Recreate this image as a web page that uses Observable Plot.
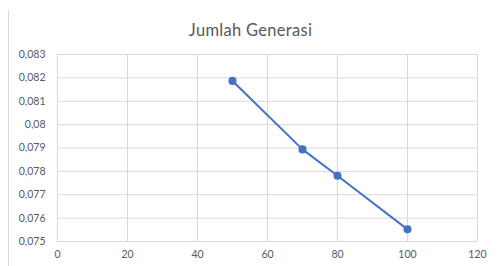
<!DOCTYPE html>
<html>
<head>
<meta charset="utf-8">
<script src="https://cdn.jsdelivr.net/npm/d3@7"></script>
<script src="https://cdn.jsdelivr.net/npm/@observablehq/plot@0.6"></script>
<style>
  html, body { margin: 0; padding: 0; background: #fff; }
  #wrap { position: relative; width: 501px; height: 266px; overflow: hidden; }
  #edge { position: absolute; left: 8px; top: 10px; width: 1px; height: 256px; background: #d9d9d9; }
  #title { position: absolute; left: 0; width: 501px; top: 20px; text-align: center;
           font-family: Lato, "Open Sans", sans-serif; font-size: 16.5px; letter-spacing: 0.3px; color: #595959; }
  svg { position: absolute; left: 0; top: 0; }
</style>
</head>
<body>
<div id="wrap">
  <div id="edge"></div>
  <div id="title">Jumlah Generasi</div>
</div>
<script>
const title = "Jumlah Generasi";
const generasi = [50, 70, 80, 100];
const nilai = [0.08187, 0.07894, 0.07781, 0.07552];
const xTicks = [0, 20, 40, 60, 80, 100, 120];
const yTicks = [0.075, 0.076, 0.077, 0.078, 0.079, 0.08, 0.081, 0.082, 0.083];

const data = generasi.map((g, i) => ({x: g, y: nilai[i]}));
const fmtY = d => String(+d.toFixed(3)).replace(".", ",");

const chart = Plot.plot({
  width: 501,
  height: 266,
  marginLeft: 57,
  marginRight: 24,
  marginTop: 54,
  marginBottom: 25,
  style: {fontFamily: "Lato, 'Open Sans', sans-serif", fontSize: "10.5px", color: "#595959", background: "transparent"},
  x: {domain: [0, 120], ticks: xTicks, tickFormat: d => String(d), label: null, tickSize: 0, tickPadding: 9},
  y: {domain: [0.075, 0.083], ticks: yTicks, tickFormat: fmtY, label: null, tickSize: 0, tickPadding: 12},
  marks: [
    Plot.gridX(xTicks, {stroke: "#d9d9d9", strokeOpacity: 1, strokeWidth: 1}),
    Plot.gridY(yTicks, {stroke: "#d9d9d9", strokeOpacity: 1, strokeWidth: 1}),
    Plot.axisX({ticks: xTicks, tickSize: 0, tickPadding: 9, tickFormat: d => String(d), fill: "#595959", label: null}),
    Plot.axisY({ticks: yTicks, tickSize: 0, tickPadding: 12, tickFormat: fmtY, fill: "#595959", label: null}),
    Plot.line(data, {x: "x", y: "y", stroke: "#4472C4", strokeWidth: 2}),
    Plot.dot(data, {x: "x", y: "y", r: 3.3, fill: "#4472C4", stroke: "#4472C4"})
  ]
});
document.getElementById("wrap").appendChild(chart);
</script>
</body>
</html>
